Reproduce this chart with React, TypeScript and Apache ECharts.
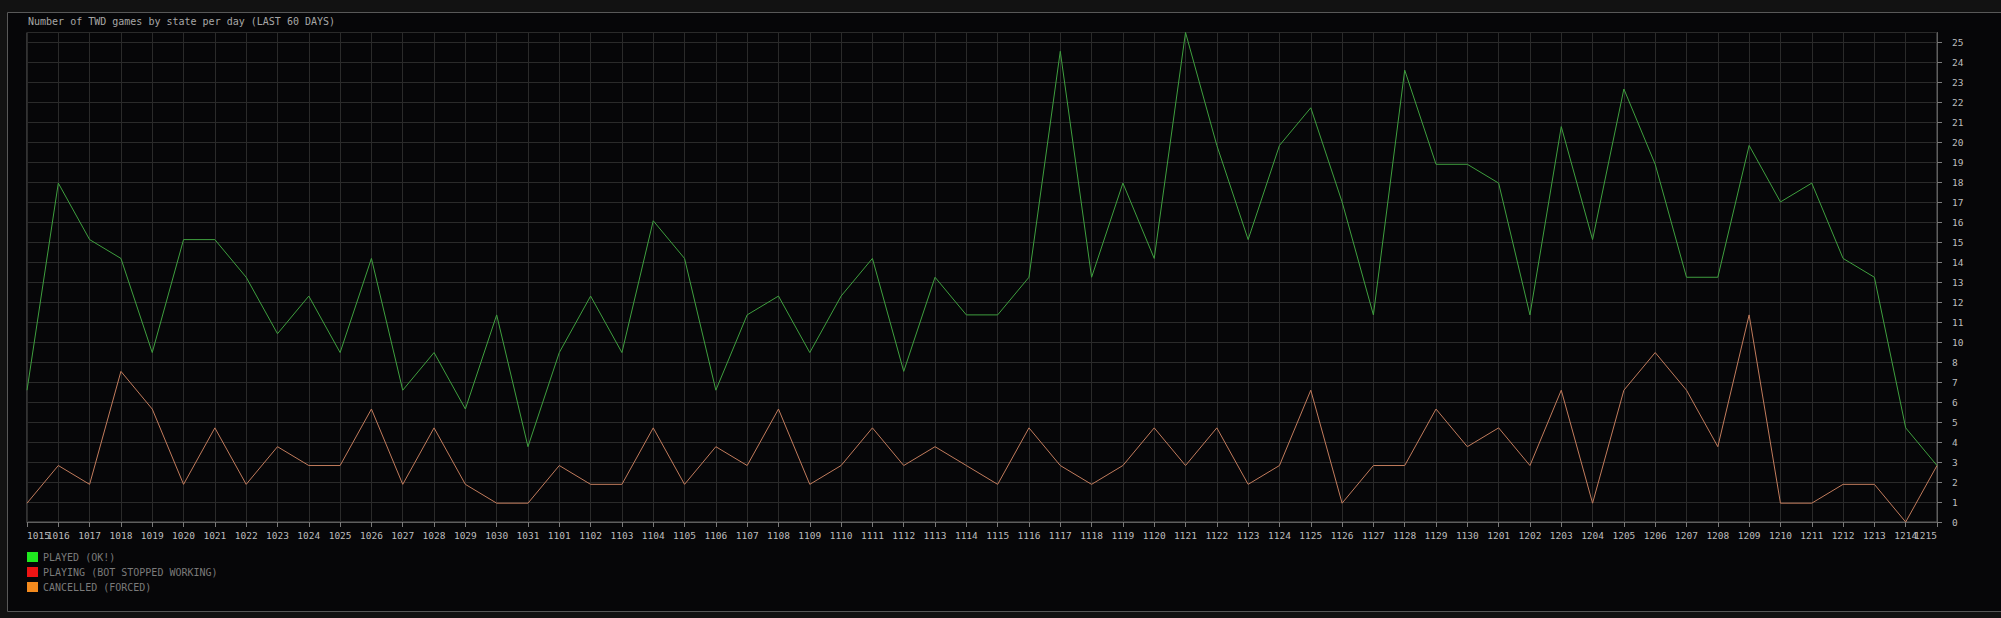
import React, { useEffect, useRef } from "react";
import * as echarts from "echarts";

const days = [
  "1015", "1016", "1017", "1018", "1019", "1020", "1021", "1022", "1023", "1024",
  "1025", "1026", "1027", "1028", "1029", "1030", "1031",
  "1101", "1102", "1103", "1104", "1105", "1106", "1107", "1108", "1109", "1110",
  "1111", "1112", "1113", "1114", "1115", "1116", "1117", "1118", "1119", "1120",
  "1121", "1122", "1123", "1124", "1125", "1126", "1127", "1128", "1129", "1130",
  "1201", "1202", "1203", "1204", "1205", "1206", "1207", "1208", "1209", "1210",
  "1211", "1212", "1213", "1214", "1215",
];

const played = [
  7, 18, 15, 14, 9, 15, 15, 13, 10, 12, 9, 14, 7, 9, 6, 11,
  4, 9, 12, 9, 16, 14, 7, 11, 12, 9, 12, 14, 8, 13, 11, 11,
  13, 25, 13, 18, 14, 26, 20, 15, 20, 22, 17, 11, 24, 19, 19,
  18, 11, 21, 15, 23, 19, 13, 13, 20, 17, 18, 14, 13, 5, 3,
];

const playing: (number | null)[] = [];

const cancelled = [
  1, 3, 2, 8, 6, 2, 5, 2, 4, 3, 3, 6, 2, 5, 2, 1,
  1, 3, 2, 2, 5, 2, 4, 3, 6, 2, 3, 5, 3, 4, 3, 2,
  5, 3, 2, 3, 5, 3, 5, 2, 3, 7, 1, 3, 3, 6, 4,
  5, 3, 7, 1, 7, 9, 7, 4, 11, 1, 1, 2, 2, 0, 3,
];

const seriesNames = ["PLAYED (OK!)", "PLAYING (BOT STOPPED WORKING)", "CANCELLED (FORCED)"];
const titleText = "Number of TWD games by state per day (LAST 60 DAYS)";

const MONO = "'DejaVu Sans Mono', monospace";

export default function App() {
  const ref = useRef<HTMLDivElement>(null);
  useEffect(() => {
    if (!ref.current) return;
    const chart = echarts.init(ref.current, undefined, { renderer: "svg" });
    const yMax = 26;
    const yStep = yMax / 24.475;
    chart.setOption({
      animation: false,
      backgroundColor: "#121212",
      graphic: [
        {
          type: "rect",
          z: -10,
          silent: true,
          shape: { x: 7.5, y: 12.5, width: 2010, height: 599 },
          style: { fill: "#060608", stroke: "#585858", lineWidth: 1 },
        },
        {
          type: "text",
          z: 10,
          x: 28,
          y: 21,
          style: {
            text: titleText,
            fill: "#a6a6a6",
            font: `10px ${MONO}`,
            verticalAlign: "middle",
            align: "left",
          },
        },
      ],
      grid: {
        left: 27,
        right: 64,
        top: 32.5,
        bottom: 96,
        show: true,
        borderColor: "#5e5e5e",
        borderWidth: 1,
        backgroundColor: "transparent",
      },
      legend: {
        orient: "vertical",
        left: 27,
        top: 552,
        padding: 0,
        itemWidth: 11,
        itemHeight: 10,
        itemGap: 5,
        icon: "rect",
        selectedMode: false,
        textStyle: { color: "#7a7a7a", fontSize: 10, fontFamily: MONO },
        data: [
          { name: seriesNames[0], itemStyle: { color: "#1fe81f", borderWidth: 0 } },
          { name: seriesNames[1], itemStyle: { color: "#ee1414", borderWidth: 0 } },
          { name: seriesNames[2], itemStyle: { color: "#f38a1e", borderWidth: 0 } },
        ],
      },
      xAxis: {
        type: "category",
        data: days,
        boundaryGap: false,
        axisLine: { show: true, lineStyle: { color: "#5e5e5e", width: 1 } },
        axisTick: { show: true, length: 5, interval: 0, lineStyle: { color: "#7a7a7a" } },
        splitLine: { show: true, interval: 0, lineStyle: { color: "#2a2a2a", width: 1 } },
        axisLabel: {
          interval: 0,
          margin: 8,
          color: "#bdbdbd",
          fontSize: 9.5,
          fontFamily: MONO,
          alignMinLabel: "left",
          alignMaxLabel: "right",
          hideOverlap: false,
        },
      },
      yAxis: {
        type: "value",
        position: "right",
        min: 0,
        max: yMax,
        interval: yStep,
        axisLine: { show: true, lineStyle: { color: "#5e5e5e", width: 1 } },
        axisTick: { show: true, length: 5, lineStyle: { color: "#7a7a7a" } },
        splitLine: { show: true, lineStyle: { color: "#2a2a2a", width: 1 } },
        axisLabel: {
          margin: 15,
          color: "#bdbdbd",
          fontSize: 9.5,
          fontFamily: MONO,
          showMaxLabel: false,
          formatter: (v: number) => String(Math.round(v)),
        },
      },
      series: [
        {
          name: seriesNames[0],
          type: "line",
          data: played,
          symbol: "none",
          lineStyle: { color: "#3f9f3f", width: 1 },
          itemStyle: { color: "#3f9f3f" },
          z: 3,
        },
        {
          name: seriesNames[1],
          type: "line",
          data: playing,
          symbol: "none",
          lineStyle: { color: "#c02020", width: 1 },
          itemStyle: { color: "#c02020" },
        },
        {
          name: seriesNames[2],
          type: "line",
          data: cancelled,
          symbol: "none",
          lineStyle: { color: "#c17b5c", width: 1 },
          itemStyle: { color: "#c17b5c" },
          z: 2,
        },
      ],
    });
    return () => chart.dispose();
  }, []);
  return (
    <div
      ref={ref}
      style={{ position: "fixed", left: 0, top: 0, width: 2001, height: 618 }}
    />
  );
}
